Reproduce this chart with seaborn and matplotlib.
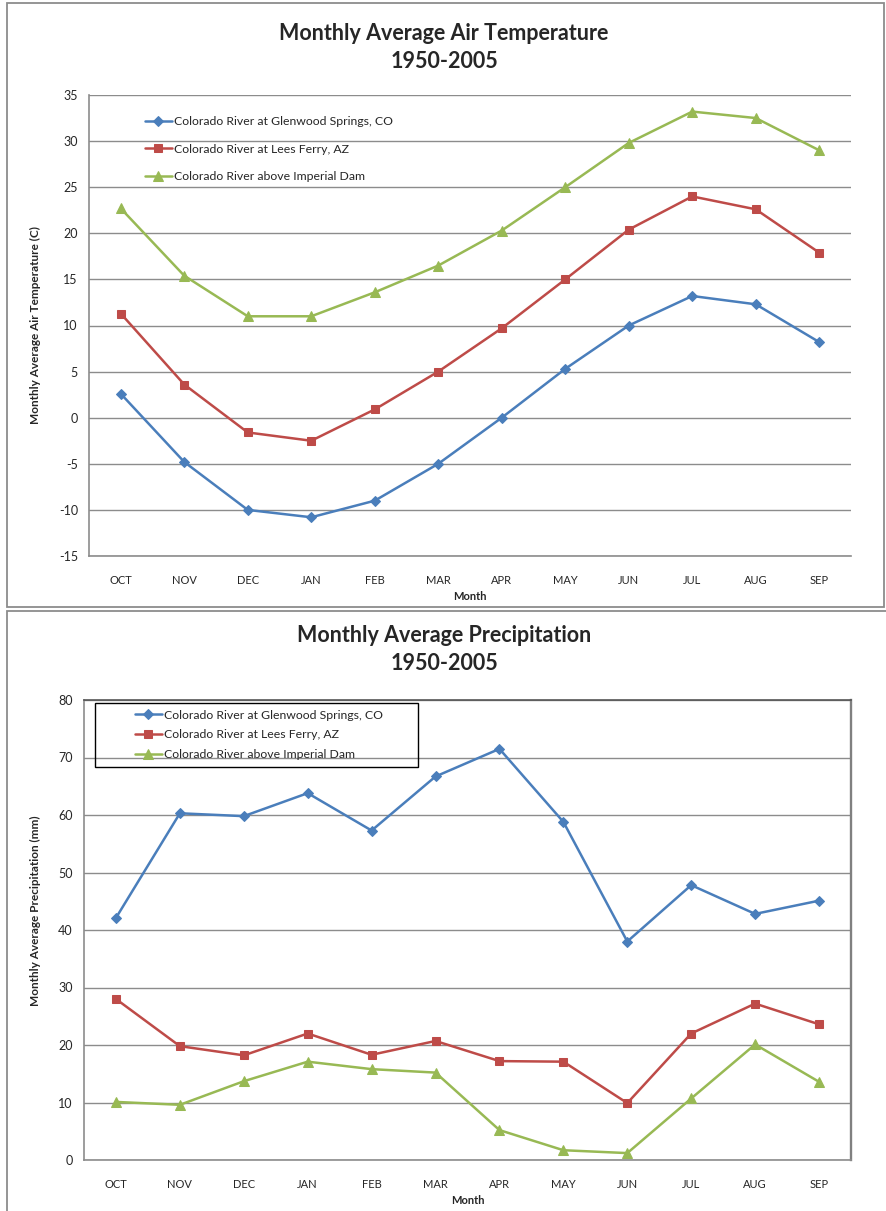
import numpy as np
import pandas as pd
import matplotlib
matplotlib.use("Agg")
import matplotlib.pyplot as plt
from matplotlib.patches import Rectangle
from matplotlib.ticker import MultipleLocator, FixedLocator
import seaborn as sns

# =========================
# DATA
# =========================
months = ["OCT", "NOV", "DEC", "JAN", "FEB", "MAR",
          "APR", "MAY", "JUN", "JUL", "AUG", "SEP"]

sites = ["Colorado River at Glenwood Springs, CO",
         "Colorado River at Lees Ferry, AZ",
         "Colorado River above Imperial Dam"]

temp_glenwood = [2.6, -4.8, -10.0, -10.8, -9.0, -5.0, 0.0, 5.3, 10.0, 13.2, 12.3, 8.2]
temp_lees = [11.3, 3.6, -1.6, -2.5, 0.9, 5.0, 9.7, 15.0, 20.4, 24.0, 22.6, 17.9]
temp_imperial = [22.7, 15.4, 11.0, 11.0, 13.6, 16.5, 20.3, 25.0, 29.8, 33.2, 32.5, 29.0]

prec_glenwood = [42.1, 60.3, 59.8, 63.8, 57.3, 66.7, 71.5, 58.8, 38.0, 47.8, 42.8, 45.1]
prec_lees = [28.0, 19.8, 18.2, 22.0, 18.3, 20.7, 17.2, 17.1, 9.9, 22.0, 27.2, 23.6]
prec_imperial = [10.1, 9.6, 13.7, 17.1, 15.8, 15.2, 5.2, 1.7, 1.2, 10.7, 20.1, 13.6]

colors = ["#4A7EBB", "#BE4B48", "#98B954"]
markers = ["D", "s", "^"]
msizes = [5, 6, 6.5]

# =========================
# STYLE
# =========================
sns.set_style("white")
plt.rcParams["font.family"] = ["Lato", "DejaVu Sans"]
plt.rcParams["axes.unicode_minus"] = False

W, H = 887, 1211
fig = plt.figure(figsize=(W / 100, H / 100), dpi=100)

# panel borders
for (x0, y0, x1, y1) in [(7, 3, 884, 607), (7, 611, 890, 1215)]:
    fig.add_artist(Rectangle((x0 / W, 1 - y1 / H),
                             (x1 - x0) / W, (y1 - y0) / H,
                             transform=fig.transFigure, fill=False,
                             edgecolor="#8C8C8C", linewidth=1.3))


def draw_panel(ax, series, ylim, ystep, ylabel, label_xy, boxed):
    x = np.arange(len(months))
    for vals, name, c, m, ms in zip(series, sites, colors, markers, msizes):
        df = pd.DataFrame({"x": x, "y": vals})
        sns.lineplot(data=df, x="x", y="y", ax=ax, color=c, linewidth=1.8,
                     marker=m, markersize=ms, markeredgecolor=c,
                     markerfacecolor=c, label=name)
    ax.set_xlim(-0.5, len(months) - 0.5)
    ax.set_ylim(*ylim)
    ax.yaxis.set_major_locator(MultipleLocator(ystep))
    ax.set_xticks(x)
    ax.set_xticklabels(months, fontsize=8)
    ax.xaxis.set_minor_locator(FixedLocator(np.arange(-0.5, len(months), 1)))
    ax.tick_params(axis="x", which="major", length=0, pad=14)
    ax.tick_params(axis="x", which="minor", length=4, color="#8C8C8C", width=1)
    ax.tick_params(axis="y", length=4, color="#8C8C8C", width=1, labelsize=9, pad=4)
    ax.grid(axis="y", color="#8C8C8C", linewidth=1)
    ax.set_axisbelow(True)
    ax.set_xlabel("Month", fontsize=8, fontweight="bold", labelpad=3)
    ax.set_ylabel(ylabel, fontsize=8.5, fontweight="bold", va="center")
    ax.yaxis.set_label_coords(*label_xy)
    for s in ["left", "bottom"]:
        ax.spines[s].set_color("#8C8C8C")
        ax.spines[s].set_linewidth(1.2)
    if boxed:
        for s in ["top", "right"]:
            ax.spines[s].set_visible(True)
            ax.spines[s].set_linewidth(1.2)
        ax.spines["top"].set_color("#555555")
        ax.spines["right"].set_color("#808080")
        ax.spines["right"].set_linewidth(1.7)
    else:
        ax.spines["top"].set_visible(False)
        ax.spines["right"].set_visible(False)


# =========================
# TEMPERATURE
# =========================
ax1 = fig.add_axes([89 / W, 1 - 556 / H, (851 - 89) / W, (556 - 95) / H])
draw_panel(ax1, [temp_glenwood, temp_lees, temp_imperial], (-15, 35), 5,
           "Monthly Average Air Temperature (C)", (-(89 - 35) / 762, 0.5), False)
ax1.legend(loc="upper left", bbox_to_anchor=(0.0735, 0.954), frameon=False,
           fontsize=8.8, handlelength=2.2, handletextpad=0.2,
           labelspacing=1.35, borderaxespad=0, borderpad=0)

fig.text(0.5006, 1 - 34 / H, "Monthly Average Air Temperature",
         ha="center", va="center", fontsize=15.5, fontweight="bold")
fig.text(0.5006, 1 - 62 / H, "1950-2005",
         ha="center", va="center", fontsize=15.5, fontweight="bold")

# =========================
# PRECIPITATION
# =========================
ax2 = fig.add_axes([84 / W, 1 - 1160 / H, (851 - 84) / W, (1160 - 700) / H])
draw_panel(ax2, [prec_glenwood, prec_lees, prec_imperial], (0, 80), 10,
           "Monthly Average Precipitation (mm)", (-(84 - 35) / 767, 0.541), True)
ax2.legend(loc="upper left", bbox_to_anchor=(0.066, 0.979), frameon=False,
           fontsize=8.8, handlelength=2.2, handletextpad=0.2,
           labelspacing=0.72, borderaxespad=0, borderpad=0)
# legend box, drawn wider than the entries like the original
ax2.add_patch(Rectangle((11 / 767, (1160 - 767) / 460), 323 / 767, 64 / 460,
                        transform=ax2.transAxes, fill=False,
                        edgecolor="black", linewidth=1, zorder=5))

fig.text(0.5006, 1 - 636 / H, "Monthly Average Precipitation",
         ha="center", va="center", fontsize=15.5, fontweight="bold")
fig.text(0.5006, 1 - 664 / H, "1950-2005",
         ha="center", va="center", fontsize=15.5, fontweight="bold")

plt.savefig("out.png", dpi=100)
plt.close()
